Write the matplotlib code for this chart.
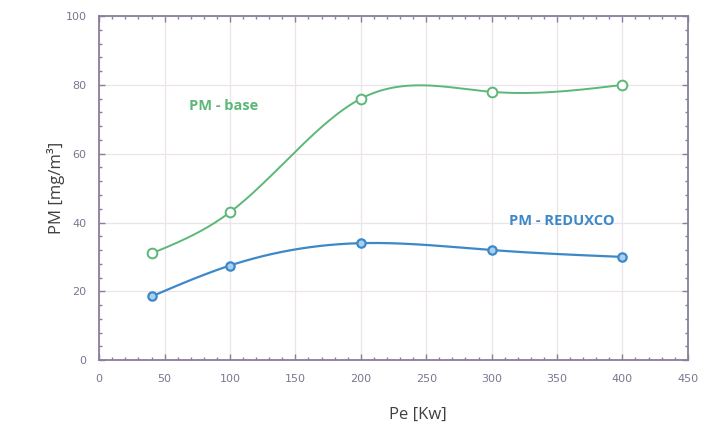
import numpy as np
import matplotlib
matplotlib.use("Agg")
import matplotlib.pyplot as plt
from matplotlib.ticker import MultipleLocator

pe = [40, 100, 200, 300, 400]
pm_base = [31, 43, 76, 78, 80]
pm_reduxco = [18.5, 27.5, 34, 32, 30]
x_ticks = [0, 50, 100, 150, 200, 250, 300, 350, 400, 450]
y_ticks = [0, 20, 40, 60, 80, 100]


def smooth(x, y, n=200):
    # natural cubic spline for drawing a smooth line through the points
    x = np.asarray(x, float)
    y = np.asarray(y, float)
    k = len(x)
    h = np.diff(x)
    A = np.zeros((k, k))
    b = np.zeros(k)
    A[0, 0] = A[-1, -1] = 1
    for i in range(1, k - 1):
        A[i, i - 1] = h[i - 1]
        A[i, i] = 2 * (h[i - 1] + h[i])
        A[i, i + 1] = h[i]
        b[i] = 6 * ((y[i + 1] - y[i]) / h[i] - (y[i] - y[i - 1]) / h[i - 1])
    M = np.linalg.solve(A, b)
    xs = np.linspace(x[0], x[-1], n)
    ys = np.empty_like(xs)
    for j, xv in enumerate(xs):
        i = min(np.searchsorted(x, xv, side="right") - 1, k - 2)
        t1 = x[i + 1] - xv
        t0 = xv - x[i]
        ys[j] = (M[i] * t1 ** 3 / (6 * h[i]) + M[i + 1] * t0 ** 3 / (6 * h[i])
                 + (y[i] / h[i] - M[i] * h[i] / 6) * t1
                 + (y[i + 1] / h[i] - M[i + 1] * h[i] / 6) * t0)
    return xs, ys


fig = plt.figure(figsize=(7.24, 4.37), dpi=100)
ax = fig.add_axes([0.137, 0.176, 0.813, 0.787])

green = "#5bb878"
blue = "#3d88c9"
axis_col = "#8a7d9e"

xs, ys = smooth(pe, pm_base)
ax.plot(xs, ys, color=green, lw=1.4, zorder=3)
ax.plot(pe, pm_base, "o", ms=7, mfc="white", mec=green, mew=1.4, zorder=4)

xs, ys = smooth(pe, pm_reduxco)
ax.plot(xs, ys, color=blue, lw=1.6, zorder=3)
ax.plot(pe, pm_reduxco, "o", ms=6, mfc="#a8d0f0", mec=blue, mew=1.6, zorder=4)

ax.text(95, 74, "PM - base", color=green, fontsize=10.5, fontweight="bold",
        ha="center", va="center", family="Open Sans")
ax.text(354, 40.5, "PM - REDUXCO", color=blue, fontsize=10.5, fontweight="bold",
        ha="center", va="center", family="Open Sans")

ax.set_xlim(0, 450)
ax.set_ylim(0, 100)
ax.set_xticks(x_ticks)
ax.set_yticks(y_ticks)
ax.xaxis.set_minor_locator(MultipleLocator(10))
ax.yaxis.set_minor_locator(MultipleLocator(4))
ax.tick_params(which="both", direction="in", top=True, right=True,
               color=axis_col, labelcolor="#7d7590", labelsize=8)
ax.tick_params(which="major", length=4, width=1)
ax.tick_params(which="minor", length=2.5, width=1)
ax.tick_params(axis="x", pad=10)
ax.tick_params(axis="y", pad=9)
for s in ax.spines.values():
    s.set_color(axis_col)
    s.set_linewidth(1.3)
ax.grid(True, which="major", color="#ece4e8", lw=0.9)
ax.set_axisbelow(True)

ax.set_xlabel("Pe [Kw]", fontsize=12, color="#404040", family="Open Sans")
ax.set_ylabel("PM [mg/m³]", fontsize=12, color="#404040", family="Open Sans")
ax.xaxis.set_label_coords(0.542, -0.135)
ax.yaxis.set_label_coords(-0.058, 0.5)

fig.savefig("out.png", dpi=100)
